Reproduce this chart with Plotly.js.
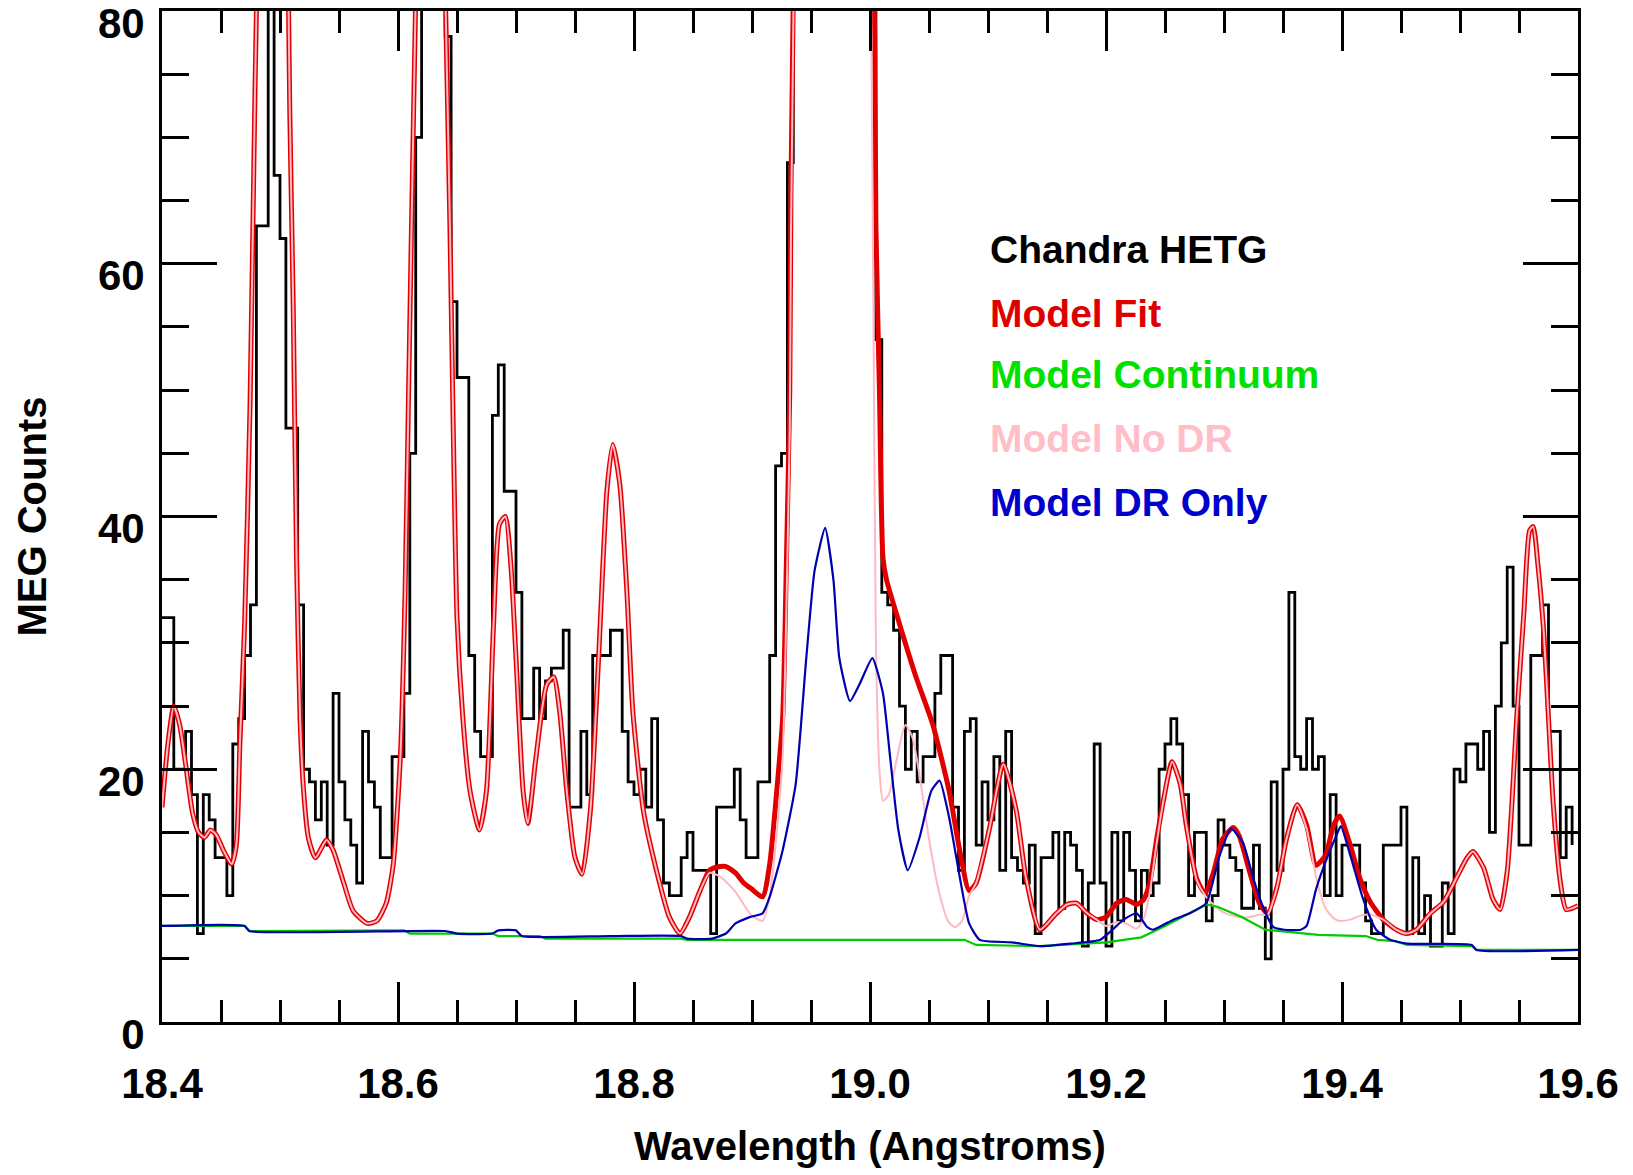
<!DOCTYPE html>
<html>
<head>
<meta charset="utf-8">
<script src="https://cdn.plot.ly/plotly-3.0.1.min.js"></script>
<style>
  html, body { margin: 0; padding: 0; background: #fff; }
  #chart { width: 1633px; height: 1175px; }
</style>
</head>
<body>
<div id="chart"></div>
<script>
// MEG histogram: 0.005 A bins starting at 18.400 A
const binStart = 18.400;
const binWidth = 0.005;
const megCounts = [
  32,32,20,20,23,18,7,18,16,13,
  13,10,22,24,29,33,63,63,92,67,
  62,47,47,33,20,19,16,19,14,26,
  19,16,14,11,23,19,17,13,13,21,
  21,26,45,70,86,92,88,84,78,57,
  51,51,29,23,21,21,48,52,42,42,
  34,24,24,28,24,27,28,28,31,17,
  17,23,18,29,29,29,31,31,23,19,
  18,20,17,24,16,11,10,10,13,15,
  12,12,12,7,17,17,17,20,16,13,
  13,19,19,29,44,45,68,105,160,240,
  330,420,480,470,400,300,210,150,110,95,
  88,54,34,33,31,25,20,23,19,21,
  21,26,29,29,17,12,23,24,14,19,
  16,21,12,23,13,12,11,14,7,13,
  13,15,9,15,14,12,6,11,22,11,
  6,15,8,15,12,8,12,10,11,20,
  22,24,22,18,10,15,15,8,10,16,
  14,13,12,9,9,14,9,5,19,12,
  20,34,21,20,24,20,21,10,18,10,
  14,14,14,11,8,7,7,14,14,14,
  17,7,13,7,10,6,6,11,7,20,
  19,22,22,20,23,15,25,30,36,25,
  14,14,29,29,33,23,23,13,17,14
];

// Model fit (red)
const fitWave = [
  18.400,18.405,18.410,18.415,18.420,18.426,18.431,18.436,18.441,18.446,
  18.452,18.459,18.463,18.466,18.470,18.4746,18.4788,18.483,18.490,18.496,
  18.502,18.506,18.5083,18.5112,18.514,18.517,18.520,18.524,18.530,18.5395,
  18.545,18.554,18.562,18.574,18.582,18.590,18.596,18.602,18.606,18.609,
  18.613,18.618,18.625,18.633,18.638,18.640,18.644,18.647,18.650,18.655,
  18.661,18.669,18.675,18.681,18.686,18.691,18.696,18.700,18.706,18.710,
  18.717,18.726,18.732,18.737,18.743,18.750,18.756,18.763,18.770,18.777,
  18.782,18.788,18.794,18.799,18.808,18.819,18.830,18.839,18.847,18.856,
  18.864,18.873,18.878,18.886,18.893,18.900,18.909,18.915,18.921,18.926,
  18.929,18.932,18.933,18.936,18.945,18.958,18.970,18.985,18.997,19.001,
  19.004,19.005,19.008,19.011,19.014,19.025,19.039,19.053,19.067,19.076,
  19.084,19.090,19.101,19.113,19.124,19.132,19.144,19.158,19.167,19.175,
  19.184,19.192,19.200,19.209,19.217,19.226,19.232,19.237,19.243,19.249,
  19.256,19.263,19.268,19.277,19.284,19.291,19.299,19.308,19.313,19.322,
  19.330,19.337,19.345,19.353,19.362,19.370,19.378,19.386,19.393,19.398,
  19.407,19.415,19.424,19.435,19.446,19.455,19.463,19.475,19.486,19.497,
  19.506,19.511,19.520,19.528,19.534,19.540,19.544,19.548,19.554,19.559,
  19.562,19.566,19.571,19.575,19.579,19.585,19.590,19.600
];
const fitCounts = [
  17,22,25,23.5,20.4,16.5,15,14.6,15.2,14.8,
  13.6,12.5,14,22,31.5,48.8,73.6,95,125,130,
  110,90,72,56.7,36.7,24,18.3,14.6,13.0,14.4,
  13.6,11,8.8,7.8,8.0,9.4,12.5,21,34,50,
  71,95,118,115,92,82,63,46,32,24,
  18.3,15.2,18.3,31.5,39.4,40,35.7,28.8,18.3,15.7,
  21,26.7,27.3,24.6,18.3,13,11.7,16.7,28.8,42,
  45.7,42.5,34,24.6,16.7,12,8.3,7,8.3,10.4,
  12,12.3,12.3,11.8,11,10.5,9.9,12.5,18.3,24.1,
  35.7,50,65.7,90,250,450,480,300,150,95,
  78,63,50,36.7,35,31.5,27.3,23.6,18.3,13.6,
  10.4,11,15.2,20.4,16.7,11.5,7.3,8.6,9.3,9.4,
  8.6,8.1,8.3,9.4,9.7,9.3,9.7,11.0,14.5,17.7,
  20.6,18.8,15.6,11.3,10.2,11.8,14.5,15.4,14.7,11.8,
  9.4,8.6,10.7,14.5,17.2,15.6,12.4,13.2,15.6,16.3,
  14,11.4,9.5,8.1,7.3,7,7.3,8.6,9.5,11.4,
  13,13.5,12.2,9.7,8.9,11.9,17.3,24,32.2,38.9,
  39.2,36.2,30.8,24,17.3,11.1,8.9,9.2
];

// Model without DR (pink)
const noDrWave = [
  18.400,18.405,18.410,18.415,18.420,18.426,18.431,18.436,18.441,18.446,
  18.452,18.459,18.463,18.466,18.470,18.4746,18.4788,18.483,18.490,18.496,
  18.502,18.506,18.5083,18.5112,18.514,18.517,18.520,18.524,18.530,18.5395,
  18.545,18.554,18.562,18.574,18.582,18.590,18.596,18.602,18.606,18.609,
  18.613,18.618,18.625,18.633,18.638,18.640,18.644,18.647,18.650,18.655,
  18.661,18.669,18.675,18.681,18.686,18.691,18.696,18.700,18.706,18.710,
  18.717,18.726,18.732,18.737,18.743,18.750,18.756,18.763,18.770,18.777,
  18.782,18.788,18.794,18.799,18.808,18.819,18.830,18.839,18.847,18.856,
  18.864,18.873,18.878,18.886,18.893,18.900,18.909,18.915,18.921,18.926,
  18.929,18.932,18.933,18.936,18.945,18.958,18.970,18.985,18.997,19.001,
  19.003,19.005,19.008,19.011,19.016,19.022,19.030,19.036,19.042,19.050,
  19.058,19.066,19.072,19.078,19.084,19.090,19.101,19.113,19.124,19.132,
  19.144,19.158,19.167,19.175,19.184,19.192,19.200,19.209,19.217,19.226,
  19.232,19.237,19.243,19.249,19.256,19.263,19.268,19.277,19.284,19.291,
  19.299,19.308,19.313,19.322,19.330,19.337,19.345,19.353,19.362,19.370,
  19.378,19.386,19.393,19.398,19.407,19.415,19.424,19.435,19.446,19.455,
  19.463,19.475,19.486,19.497,19.506,19.511,19.520,19.528,19.534,19.540,
  19.544,19.548,19.554,19.559,19.562,19.566,19.571,19.575,19.579,19.585,
  19.590,19.600
];
const noDrCounts = [
  17,22,25,23.5,20.4,16.5,15,14.6,15.2,14.8,
  13.6,12.5,14,22,31.5,48.8,73.6,95,125,130,
  110,90,72,56.7,36.7,24,18.3,14.6,13.0,14.4,
  13.6,11,8.8,7.8,8.0,9.4,12.5,21,34,50,
  71,95,118,115,92,82,63,46,32,24,
  18.3,15.2,18.3,31.5,39.4,40,35.7,28.8,18.3,15.7,
  21,26.7,27.3,24.6,18.3,13,11.7,16.7,28.8,42,
  45.7,42.5,34,24.6,16.7,12,8.3,7,8.3,10.4,
  11.8,11.5,11.1,10.3,9.3,8.4,8.0,10.0,15,21,
  32,47,62,88,230,420,450,280,135,80,
  55,30,20,17.5,18,20.5,23.5,22.5,19.5,14.5,
  10.5,8,7.5,8,10,11,15.2,20.4,16.7,11.5,
  7.3,8.6,9.3,9.4,8.6,8.1,7.6,7.9,7.8,7.4,
  8.2,10.2,14.2,17.7,20.6,18.8,15.6,11.2,10.0,9.3,
  8.7,8.4,8.3,8.3,8.5,8.5,10.7,14.5,17.2,15.3,
  11.5,9.0,8.2,8.0,8.1,8.4,8.5,8.1,7.3,7,
  7.3,8.6,9.5,11.4,13,13.5,12.2,9.7,8.9,11.9,
  17.3,24,32.2,38.9,39.2,36.2,30.8,24,17.3,11.1,
  8.9,9.2
];

// Model continuum (green)
const contWave = [
  18.400,18.470,18.474,18.580,18.605,18.610,18.680,18.685,18.720,18.725,
  18.840,18.845,19.080,19.090,19.144,19.200,19.230,19.250,19.270,19.285,
  19.295,19.315,19.335,19.345,19.380,19.420,19.430,19.445,19.455,19.510,
  19.514,19.600
];
const contCounts = [
  7.6,7.6,7.2,7.25,7.25,7.0,7.0,6.8,6.8,6.6,
  6.6,6.5,6.5,6.1,6.0,6.3,6.7,7.6,8.6,9.3,
  9.1,8.3,7.3,7.2,6.9,6.8,6.5,6.4,6.1,6.0,
  5.7,5.7
];

// Model DR only (blue)
const drWave = [
  18.400,18.470,18.474,18.640,18.650,18.680,18.685,18.700,18.705,18.780,
  18.840,18.845,18.866,18.878,18.886,18.898,18.909,18.915,18.926,18.937,
  18.946,18.953,18.962,18.969,18.974,18.983,18.991,19.002,19.011,19.017,
  19.024,19.032,19.042,19.052,19.059,19.067,19.076,19.084,19.093,19.120,
  19.144,19.170,19.195,19.215,19.226,19.235,19.240,19.257,19.271,19.285,
  19.296,19.306,19.316,19.325,19.333,19.342,19.351,19.365,19.370,19.378,
  19.387,19.395,19.399,19.407,19.418,19.429,19.441,19.455,19.510,19.514,
  19.600
];
const drCounts = [
  7.6,7.6,7.2,7.2,7.0,7.0,7.25,7.25,6.8,6.8,
  6.8,6.6,6.6,7.0,7.8,8.3,8.6,9.9,13.6,18.8,
  28.8,35.7,39.1,35,28.8,25.4,26.7,28.8,26,21,
  15.2,12,14.6,18.3,19.1,16.2,11.5,7.8,6.5,6.3,
  6.0,6.2,6.5,8.1,8.6,7.5,7.3,8.1,8.6,9.4,
  13.1,15.3,14.2,11.3,9.1,7.5,7.3,7.3,7.6,10.5,
  12.9,14.7,15.5,13.2,9.7,7.3,6.5,6.2,6.1,5.7,
  5.7
];

// text legend, top to bottom
const legendNames = ['Chandra HETG', 'Model Fit', 'Model Continuum', 'Model No DR', 'Model DR Only'];
const legendColors = ['black', 'rgb(222,0,0)', 'rgb(0,225,0)', 'rgb(255,190,200)', 'rgb(0,0,205)'];
const legendY = [61.1, 56.1, 51.2, 46.2, 41.1];

const FONT = 'Liberation Sans, Arial, Helvetica, sans-serif';

const traces = [
  {
    y: megCounts, x0: binStart, dx: binWidth,
    type: 'scatter', mode: 'lines', name: legendNames[0],
    line: {color: 'black', width: 2.8, shape: 'hv'}
  },
  {
    x: fitWave, y: fitCounts,
    type: 'scatter', mode: 'lines', name: legendNames[1],
    line: {color: 'rgb(225,0,0)', width: 5, shape: 'spline', smoothing: 0.6}
  },
  {
    x: noDrWave, y: noDrCounts,
    type: 'scatter', mode: 'lines', name: legendNames[3],
    line: {color: 'rgb(255,185,195)', width: 2, shape: 'spline', smoothing: 0.6}
  },
  {
    x: contWave, y: contCounts,
    type: 'scatter', mode: 'lines', name: legendNames[2],
    line: {color: 'rgb(0,205,0)', width: 2.2}
  },
  {
    x: drWave, y: drCounts,
    type: 'scatter', mode: 'lines', name: legendNames[4],
    line: {color: 'rgb(0,0,175)', width: 2.2, shape: 'spline', smoothing: 0.5}
  }
];

const annotations = legendNames.map(function (name, i) {
  return {
    x: 19.1, y: legendY[i], xref: 'x', yref: 'y',
    xanchor: 'left', yanchor: 'middle', showarrow: false,
    text: name,
    font: {family: FONT, size: 39, weight: 'bold', color: legendColors[i]}
  };
});

const layout = {
  width: 1633, height: 1175,
  margin: {l: 162, r: 55, t: 11, b: 153, pad: 0},
  paper_bgcolor: 'white', plot_bgcolor: 'white',
  showlegend: false,
  font: {family: FONT, size: 40, color: 'black', weight: 'bold'},
  xaxis: {
    range: [18.4, 19.6], tick0: 18.4, dtick: 0.2, tickformat: '.1f',
    ticks: 'inside', ticklen: 40, tickwidth: 3, tickcolor: 'black',
    showline: true, linewidth: 3, linecolor: 'black', mirror: 'ticks',
    showgrid: false, zeroline: false,
    minor: {tick0: 18.4, dtick: 0.05, ticks: 'inside', ticklen: 22, tickwidth: 3, tickcolor: 'black', showgrid: false},
    tickfont: {family: FONT, size: 42, weight: 'bold', color: 'black'},
    ticklabelstandoff: 23,
    title: {text: 'Wavelength (Angstroms)', font: {family: FONT, size: 40, weight: 'bold'}, standoff: 26}
  },
  yaxis: {
    range: [0, 80], tick0: 0, dtick: 20,
    ticks: 'inside', ticklen: 55, tickwidth: 3, tickcolor: 'black',
    showline: true, linewidth: 3, linecolor: 'black', mirror: 'ticks',
    showgrid: false, zeroline: false,
    minor: {tick0: 0, dtick: 5, ticks: 'inside', ticklen: 27, tickwidth: 3, tickcolor: 'black', showgrid: false},
    tickfont: {family: FONT, size: 42, weight: 'bold', color: 'black'},
    ticklabelstandoff: 6,
    ticklabelshift: 12,
    ticklabeloverflow: 'allow',
    title: {text: 'MEG Counts', font: {family: FONT, size: 40, weight: 'bold'}, standoff: 39}
  },
  annotations: annotations
};

Plotly.newPlot('chart', traces, layout, {staticPlot: true, displayModeBar: false});
</script>
</body>
</html>
